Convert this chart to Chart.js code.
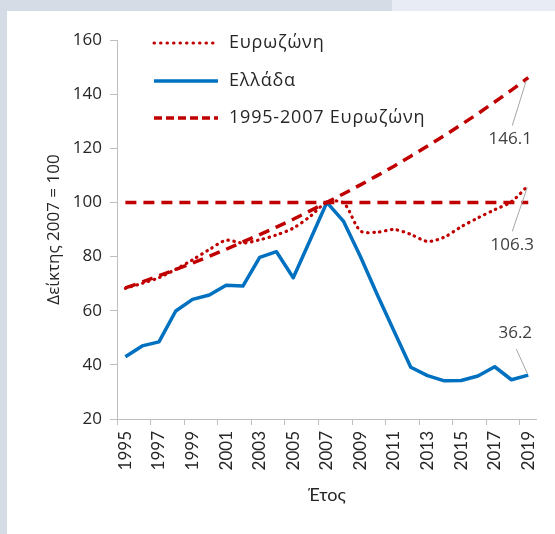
<!DOCTYPE html>
<html>
<head>
<meta charset="utf-8">
<script src="https://cdn.jsdelivr.net/npm/chart.js@4.4.1/dist/chart.umd.min.js"></script>
<style>
  html, body { margin: 0; padding: 0; }
  body { width: 555px; height: 534px; position: relative; overflow: hidden; background: #d5dce5; }
  #bandR { position: absolute; left: 392px; top: 0; width: 163px; height: 11px; background: #e8ecf4; }
  #panel { position: absolute; left: 7px; top: 11px; right: 0; bottom: 0; background: #ffffff; }
  #wrap { position: absolute; left: 0; top: 0; width: 555px; height: 534px; }
</style>
</head>
<body>
<div id="bandR"></div>
<div id="panel"></div>
<div id="wrap"><canvas id="c" width="555" height="534"></canvas></div>
<script>
const years = ['1995','1996','1997','1998','1999','2000','2001','2002','2003','2004','2005','2006','2007',
               '2008','2009','2010','2011','2012','2013','2014','2015','2016','2017','2018','2019'];
const greece   = [43.0, 47.0, 48.5, 59.9, 64.2, 65.8, 69.4, 69.1, 79.7, 81.8, 72.2, 86.0, 100.0,
                  93.0, 80.0, 66.0, 52.5, 39.1, 36.0, 34.1, 34.2, 35.9, 39.3, 34.5, 36.2];
const eurozone = [68.3, 70.1, 72.2, 75.3, 78.8, 82.6, 86.0, 85.0, 86.2, 88.0, 90.5, 94.8, 100.0,
                  99.8, 89.5, 89.0, 90.0, 88.2, 85.6, 87.2, 91.0, 94.3, 97.3, 100.3, 106.3];
const trend    = [68.4, 70.6, 72.9, 75.2, 77.6, 80.1, 82.7, 85.4, 88.1, 90.9, 93.8, 96.9, 100.0,
                  103.2, 106.5, 109.9, 113.4, 117.1, 120.8, 124.7, 128.7, 132.8, 137.1, 141.5, 146.1];
const base2007 = [100, 100, 100, 100, 100, 100, 100, 100, 100, 100, 100, 100, 100,
                  100, 100, 100, 100, 100, 100, 100, 100, 100, 100, 100, 100];
const yTicks = [20, 40, 60, 80, 100, 120, 140, 160];
const seriesNames = ['Ευρωζώνη', 'Ελλάδα', '1995-2007 Ευρωζώνη'];
const yTitle = 'Δείκτης 2007 = 100';
const xTitle = 'Έτος';

const RED = '#c00000', BLUE = '#0070c0', AXIS = '#bfbfbf', TXT = '#262626';
const GEO = '"Open Sans", "Noto Sans", sans-serif';
const CAL = 'Lato, "Noto Sans", sans-serif';

const legendPlugin = {
  id: 'customLegend',
  afterDraw(chart) {
    const ctx = chart.ctx;
    const rows = [
      { text: seriesNames[0], color: RED, dash: [0.5, 6], cap: 'round', width: 3, y: 43 },
      { text: seriesNames[1], color: BLUE, dash: [], cap: 'butt', width: 3.5, y: 81 },
      { text: seriesNames[2], color: RED, dash: [8, 4], cap: 'butt', width: 3.5, y: 118 }
    ];
    ctx.save();
    rows.forEach(r => {
      ctx.beginPath();
      ctx.setLineDash(r.dash);
      ctx.lineCap = r.cap;
      ctx.lineWidth = r.width;
      ctx.strokeStyle = r.color;
      ctx.moveTo(154, r.y);
      ctx.lineTo(218, r.y);
      ctx.stroke();
      ctx.setLineDash([]);
      ctx.fillStyle = TXT;
      ctx.font = '18px ' + GEO;
      if ('letterSpacing' in ctx) ctx.letterSpacing = '0.8px';
      ctx.textBaseline = 'middle';
      ctx.textAlign = 'left';
      ctx.fillText(r.text, 229, r.y);
      if ('letterSpacing' in ctx) ctx.letterSpacing = '0px';
    });
    ctx.restore();
  }
};

const endLabelPlugin = {
  id: 'endLabels',
  afterDraw(chart) {
    const ctx = chart.ctx;
    const xs = chart.scales.x, ys = chart.scales.y;
    const last = years.length - 1;
    const px = xs.getPixelForValue(last);
    const items = [
      { v: trend[last],    l0: [-2, 3],  l1: [-16, 48], t: [-18, 62] },
      { v: eurozone[last], l0: [-1, 2],  l1: [-16, 46], t: [-16, 60] },
      { v: greece[last],   l0: [-1, -2], l1: [-12, -26], t: [-13, -42] }
    ];
    ctx.save();
    items.forEach(it => {
      const py = ys.getPixelForValue(it.v);
      ctx.beginPath();
      ctx.strokeStyle = '#a6a6a6';
      ctx.lineWidth = 1;
      ctx.moveTo(px + it.l0[0], py + it.l0[1]);
      ctx.lineTo(px + it.l1[0], py + it.l1[1]);
      ctx.stroke();
      ctx.fillStyle = '#404040';
      ctx.font = '17px ' + GEO;
      ctx.textAlign = 'center';
      ctx.textBaseline = 'middle';
      ctx.fillText(it.v.toFixed(1), px + it.t[0], py + it.t[1]);
    });
    ctx.restore();
  }
};

new Chart(document.getElementById('c'), {
  type: 'line',
  data: {
    labels: years,
    datasets: [
      { label: seriesNames[2], data: trend, borderColor: RED, borderWidth: 3.5, borderDash: [11, 7],
        pointRadius: 0, tension: 0, fill: false },
      { label: '', data: base2007, borderColor: RED, borderWidth: 3.5, borderDash: [11, 7],
        pointRadius: 0, tension: 0, fill: false },
      { label: seriesNames[0], data: eurozone, borderColor: RED, borderWidth: 3.2, borderDash: [0.5, 5.5],
        borderCapStyle: 'round', pointRadius: 0, tension: 0.3, fill: false },
      { label: seriesNames[1], data: greece, borderColor: BLUE, borderWidth: 3.5,
        pointRadius: 0, tension: 0, fill: false, borderJoinStyle: 'round' }
    ]
  },
  options: {
    responsive: false,
    animation: false,
    events: [],
    layout: { padding: { left: 0, top: 40, right: 17, bottom: 0 } },
    plugins: { legend: { display: false }, tooltip: { enabled: false } },
    scales: {
      x: {
        type: 'category',
        offset: true,
        afterFit(s) { s.height = 115; },
        border: { display: true, color: AXIS, width: 1 },
        grid: {
          offset: true,
          drawOnChartArea: false,
          drawTicks: true,
          tickLength: 6,
          tickColor: ctx => (ctx.index % 2 === 0 && ctx.index < years.length) ? AXIS : 'rgba(0,0,0,0)'
        },
        ticks: {
          autoSkip: false,
          maxRotation: 90,
          minRotation: 90,
          padding: 6,
          color: TXT,
          font: { family: CAL, size: 17 },
          callback: (v, i) => (i % 2 === 0 ? years[i] : '')
        },
        title: { display: true, text: xTitle, color: TXT, font: { family: CAL, size: 18 },
                 padding: { top: 2, bottom: 28 } }
      },
      y: {
        min: 20,
        max: 160,
        afterFit(s) { s.width = 117; },
        afterBuildTicks(s) { s.ticks = yTicks.map(v => ({ value: v })); },
        border: { display: true, color: AXIS, width: 1 },
        grid: { drawOnChartArea: false, drawTicks: true, tickLength: 7, tickColor: AXIS },
        ticks: { color: TXT, padding: 8, font: { family: GEO, size: 17 } },
        title: { display: true, text: yTitle, color: TXT, font: { family: GEO, size: 17 },
                 padding: { top: 44, bottom: 0 } }
      }
    }
  },
  plugins: [legendPlugin, endLabelPlugin]
});
</script>
</body>
</html>
